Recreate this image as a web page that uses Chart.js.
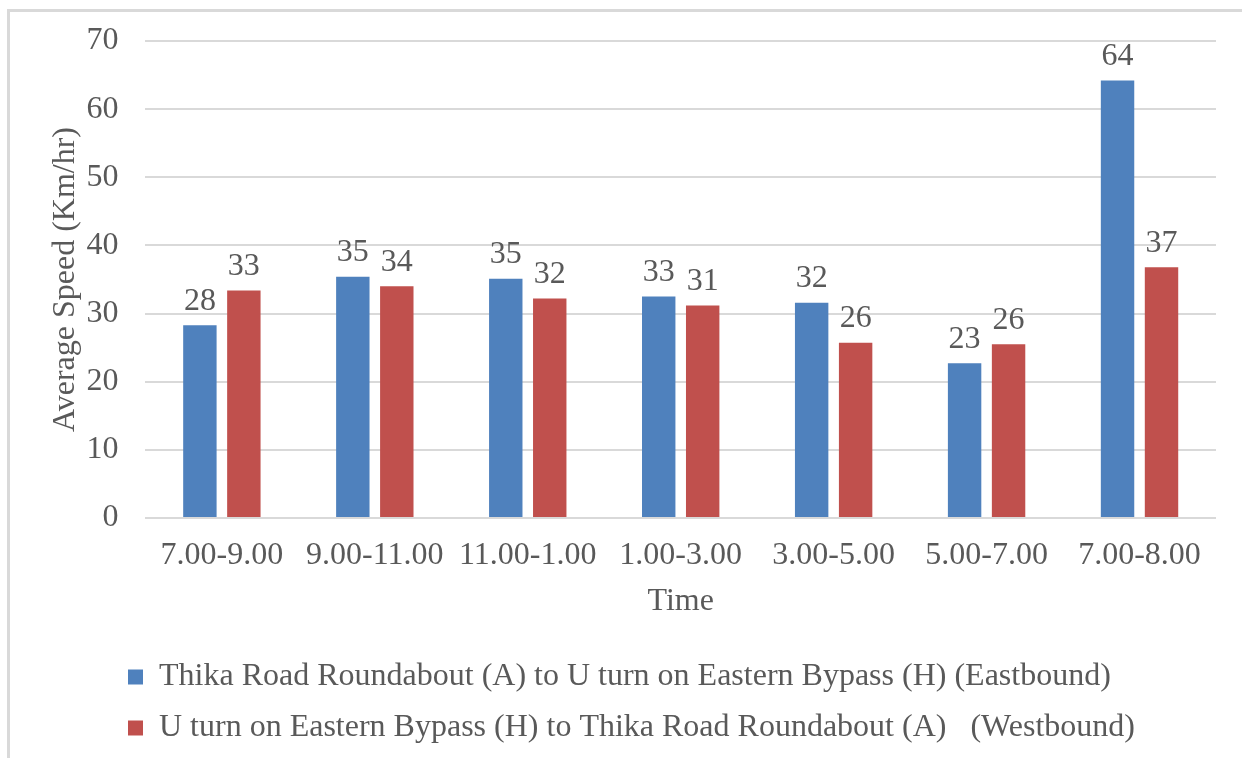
<!DOCTYPE html>
<html>
<head>
<meta charset="utf-8">
<script src="https://cdn.jsdelivr.net/npm/chart.js@4"></script>
<style>
  body { margin: 0; background: #fff; }
  #wrap { position: relative; width: 1242px; height: 758px; }
  #frame { position: absolute; left: 7px; top: 9px; right: 0; bottom: 0;
           border-left: 3px solid #d9d9d9; border-top: 3px solid #d9d9d9; }
  #speedChart { position: absolute; left: 0; top: 0; }
</style>
</head>
<body>
<div id="wrap">
  <div id="frame"></div>
  <canvas id="speedChart" width="1242" height="758"></canvas>
</div>
<script>
const periodos = ['7.00-9.00', '9.00-11.00', '11.00-1.00', '1.00-3.00', '3.00-5.00', '5.00-7.00', '7.00-8.00'];

const eastbound = [28.3, 35.4, 35.1, 32.5, 31.6, 22.7, 64.2];
const westbound = [33.4, 34.0, 32.2, 31.2, 25.7, 25.5, 36.8];

const serieEast = 'Thika Road Roundabout (A) to U turn on Eastern Bypass (H) (Eastbound)';
const serieWest = 'U turn on Eastern Bypass (H) to Thika Road Roundabout (A)   (Westbound)';

const yTicks = [0, 10, 20, 30, 40, 50, 60, 70];

const gris = '#595959';
const fuente = 'Liberation Serif, Times New Roman, serif';

// etiquetas encima de cada barra
const etiquetas = {
    id: 'etiquetas',
    afterDatasetsDraw(chart){
        const ctx = chart.ctx;
        ctx.save();
        ctx.fillStyle = gris;
        ctx.font = '32px ' + fuente;
        ctx.textAlign = 'center';
        ctx.textBaseline = 'bottom';
        chart.data.datasets.forEach((ds, i) => {
            chart.getDatasetMeta(i).data.forEach((bar, j) => {
                ctx.fillText(Math.round(ds.data[j]), bar.x, bar.y - 8);
            });
        });
        ctx.restore();
    }
};

// mover la leyenda a la izquierda como en el original
const leyendaIzq = {
    id: 'leyendaIzq',
    afterLayout(chart){
        chart.legend.left = 109;
    }
};

const ctx1 = document.getElementById('speedChart');

new Chart(ctx1, {
    type: 'bar',
    data: {
        labels: periodos,
        datasets: [{
            label: serieEast,
            data: eastbound,
            backgroundColor: '#4F81BD'
        }, {
            label: serieWest,
            data: westbound,
            backgroundColor: '#C0504D'
        }]
    },
    options: {
        responsive: false,
        animation: false,
        categoryPercentage: 0.575,
        barPercentage: 0.76,
        layout: {
            padding: { top: 41, right: 26, left: 46, bottom: 4 }
        },
        plugins: {
            tooltip: { enabled: false },
            legend: {
                position: 'bottom',
                align: 'start',
                labels: {
                    boxWidth: 15,
                    boxHeight: 15,
                    padding: 19,
                    color: gris,
                    font: { family: fuente, size: 32 }
                }
            }
        },
        scales: {
            x: {
                grid: { display: false },
                border: { display: false },
                ticks: {
                    color: gris,
                    padding: 14,
                    font: { family: fuente, size: 32, lineHeight: 1 }
                },
                title: {
                    display: true,
                    text: 'Time',
                    color: gris,
                    padding: { top: 0, bottom: 24 },
                    font: { family: fuente, size: 32, lineHeight: 1 }
                }
            },
            y: {
                min: 0,
                max: 70,
                afterBuildTicks(axis){
                    axis.ticks = yTicks.map(v => ({ value: v }));
                },
                afterFit(axis){
                    axis.width -= 25;
                    axis.paddingTop = 4;
                },
                grid: { color: '#d9d9d9', lineWidth: 2, drawTicks: false },
                border: { display: false },
                ticks: {
                    color: gris,
                    padding: 27,
                    font: { family: fuente, size: 32 }
                },
                title: {
                    display: true,
                    text: 'Average Speed (Km/hr)',
                    color: gris,
                    padding: { top: 0, bottom: 0 },
                    font: { family: fuente, size: 32 }
                }
            }
        }
    },
    plugins: [etiquetas, leyendaIzq]
});
</script>
</body>
</html>
